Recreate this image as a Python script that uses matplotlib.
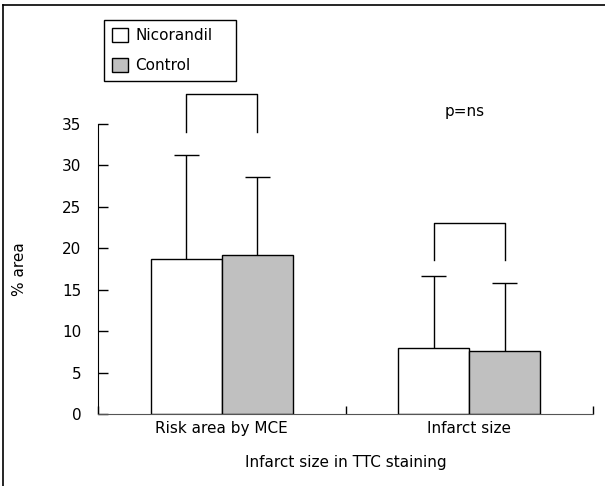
import matplotlib
matplotlib.use("Agg")
import matplotlib.pyplot as plt
from matplotlib.lines import Line2D
import numpy as np

categories = ["Risk area by MCE", "Infarct size"]
series = ["Nicorandil", "Control"]
means = {"Nicorandil": [18.7, 8.0], "Control": [19.2, 7.6]}
errs = {"Nicorandil": [12.6, 8.7], "Control": [9.4, 8.2]}
colors = {"Nicorandil": "white", "Control": "#c0c0c0"}

# significance brackets: (bottom, top) per group
brackets = [(34.0, 38.6), (18.6, 23.1)]
p_text = "p=ns"

plt.rcParams['font.family'] = ['DejaVu Sans']
plt.rcParams['font.size'] = 11

fig = plt.figure(figsize=(6.05, 4.86), dpi=100)
ax = fig.add_axes([98 / 605, 1 - 414 / 486, 495 / 605, 290 / 486])

centers = np.arange(len(categories)) + 0.5
w = 0.287
offsets = [-w / 2, w / 2]
cap = 0.05
for s, off in zip(series, offsets):
    x = centers + off
    tops = np.array(means[s]) + np.array(errs[s])
    ax.bar(x, means[s], width=w, color=colors[s], edgecolor="black",
           linewidth=1, label=s, zorder=2)
    ax.vlines(x, means[s], tops, color="black", lw=1, zorder=3)
    ax.hlines(tops, x - cap, x + cap, color="black", lw=1, zorder=3)

for c, (lo, hi) in zip(centers, brackets):
    ax.plot([c + offsets[0], c + offsets[0], c + offsets[1], c + offsets[1]],
            [lo, hi, hi, lo], color="black", lw=1, clip_on=False)

ax.text(centers[1] - 0.02, 36.5, p_text, ha="center", va="center")

ax.set_xlim(0, 2)
ax.set_ylim(0, 35)
ax.set_yticks(range(0, 36, 5))
ax.set_xticks([0, 1, 2])
ax.set_xticklabels([])
ax.tick_params(axis="y", direction="in", length=7, width=1, pad=12)
ax.tick_params(axis="x", direction="in", length=6, width=1)
for c, lab in zip(centers, categories):
    ax.text(c, -1.8, lab, ha="center", va="center")

ax.spines["top"].set_visible(False)
ax.spines["right"].set_visible(False)
ax.spines["bottom"].set_color("#555555")

fig.text(19 / 605, 1 - 269 / 486, "% area", rotation=90, ha="center", va="center")
fig.text(345.5 / 605, 1 - 462 / 486, "Infarct size in TTC staining", ha="center", va="center")

leg = fig.legend(loc="upper left",
                 bbox_to_anchor=(104 / 605, 1 - 80 / 486, 132 / 605, 60 / 486),
                 mode="expand", borderaxespad=0,
                 fancybox=False, framealpha=1, edgecolor="black",
                 handlelength=1.0, handleheight=1.0, borderpad=0.55,
                 labelspacing=0.95, handletextpad=0.5)
leg.get_frame().set_linewidth(1)

# outer frame (left and top edges)
fig.add_artist(Line2D([3 / 605, 3 / 605], [0, 1 - 5 / 486], color="black", lw=1.2))
fig.add_artist(Line2D([3 / 605, 1], [1 - 5 / 486, 1 - 5 / 486], color="black", lw=1.2))

fig.savefig("out.png", dpi=100)
